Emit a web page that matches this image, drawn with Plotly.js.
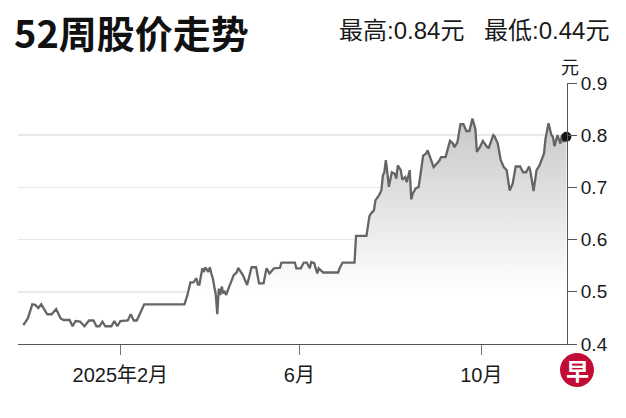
<!DOCTYPE html>
<html>
<head>
<meta charset="utf-8">
<script src="https://cdn.plot.ly/plotly-3.0.1.min.js"></script>
<style>html,body{margin:0;padding:0;background:#fff;}#chart{width:626px;height:418px;}</style>
</head>
<body>
<div id="chart"></div>
<script>
// 52-week share price (SGD)
const dates = [
  '2024-11-28','2024-11-30','2024-12-01','2024-12-04','2024-12-06','2024-12-08','2024-12-10','2024-12-14',
  '2024-12-17','2024-12-20','2024-12-23','2024-12-25','2024-12-29','2024-12-31','2025-01-02','2025-01-05',
  '2025-01-08','2025-01-11','2025-01-14','2025-01-16','2025-01-18','2025-01-20','2025-01-22','2025-01-26',
  '2025-01-28','2025-01-30','2025-02-01','2025-02-06','2025-02-08','2025-02-10','2025-02-12','2025-02-14',
  '2025-02-17','2025-03-16','2025-03-18','2025-03-20','2025-03-22','2025-03-24','2025-03-25','2025-03-26',
  '2025-03-28','2025-03-29','2025-03-30','2025-04-01','2025-04-02','2025-04-03','2025-04-04','2025-04-06',
  '2025-04-07','2025-04-08','2025-04-09','2025-04-10','2025-04-11','2025-04-12','2025-04-13','2025-04-15',
  '2025-04-18','2025-04-20','2025-04-21','2025-04-23','2025-04-24','2025-04-27','2025-04-29','2025-04-30',
  '2025-05-03','2025-05-05','2025-05-08','2025-05-10','2025-05-12','2025-05-15','2025-05-19','2025-05-20',
  '2025-05-29','2025-05-30','2025-06-02','2025-06-04','2025-06-06','2025-06-08','2025-06-09','2025-06-11',
  '2025-06-13','2025-06-14','2025-06-17','2025-06-27','2025-06-28','2025-06-30','2025-07-08','2025-07-09',
  '2025-07-16','2025-07-18','2025-07-19','2025-07-21','2025-07-22','2025-07-24','2025-07-26','2025-07-27',
  '2025-07-28','2025-07-29','2025-07-30','2025-07-31','2025-08-02','2025-08-04','2025-08-05','2025-08-06',
  '2025-08-08','2025-08-09','2025-08-11','2025-08-12','2025-08-14','2025-08-15','2025-08-16','2025-08-18',
  '2025-08-20','2025-08-22','2025-08-23','2025-08-25','2025-08-26','2025-08-28','2025-08-30','2025-09-01',
  '2025-09-03','2025-09-04','2025-09-07','2025-09-10','2025-09-12','2025-09-13','2025-09-15','2025-09-17',
  '2025-09-19','2025-09-21','2025-09-23','2025-09-25','2025-09-27','2025-09-28','2025-09-30','2025-10-02',
  '2025-10-05','2025-10-06','2025-10-09','2025-10-10','2025-10-12','2025-10-14','2025-10-16','2025-10-18',
  '2025-10-20','2025-10-22','2025-10-24','2025-10-27','2025-10-29','2025-10-31','2025-11-02','2025-11-03',
  '2025-11-05','2025-11-07','2025-11-09','2025-11-12','2025-11-13','2025-11-15','2025-11-17','2025-11-18',
  '2025-11-19','2025-11-21','2025-11-23','2025-11-24','2025-11-25','2025-11-27'
];
const prices = [
  0.436,0.446,0.449,0.476,0.475,0.469,0.476,0.457,
  0.457,0.467,0.449,0.446,0.446,0.434,0.444,0.443,
  0.434,0.445,0.445,0.434,0.434,0.443,0.434,0.434,
  0.444,0.434,0.444,0.445,0.457,0.445,0.445,0.457,
  0.476,0.476,0.494,0.518,0.518,0.526,0.514,0.514,
  0.545,0.538,0.547,0.538,0.547,0.535,0.526,0.494,
  0.457,0.506,0.494,0.510,0.497,0.500,0.494,0.510,
  0.532,0.537,0.546,0.537,0.533,0.513,0.538,0.547,
  0.547,0.516,0.516,0.545,0.535,0.545,0.546,0.556,
  0.556,0.545,0.545,0.556,0.556,0.545,0.557,0.555,
  0.535,0.545,0.537,0.537,0.545,0.556,0.556,0.607,
  0.607,0.645,0.650,0.656,0.675,0.683,0.694,0.723,
  0.729,0.752,0.729,0.701,0.729,0.726,0.717,0.742,
  0.733,0.715,0.720,0.710,0.733,0.677,0.688,0.698,
  0.701,0.745,0.761,0.765,0.771,0.755,0.739,0.745,
  0.752,0.758,0.758,0.789,0.784,0.777,0.787,0.821,
  0.821,0.808,0.808,0.832,0.812,0.768,0.777,0.789,
  0.777,0.776,0.800,0.797,0.784,0.752,0.739,0.733,
  0.694,0.707,0.740,0.740,0.729,0.729,0.740,0.729,
  0.693,0.733,0.742,0.765,0.793,0.823,0.800,0.797,
  0.779,0.800,0.784,0.800,0.787,0.797
];
const tickDates = ['2025-02-01','2025-06-01','2025-10-01'];
const tickLabels = ['2025年2月','6月','10月'];
const yTicks = [0.4,0.5,0.6,0.7,0.8,0.9];
const titleText = '52周股价走势';
const highText = '最高:0.84元';
const lowText = '最低:0.44元';
const unitText = '元';

const FONT = "'Liberation Sans', 'Noto Sans CJK SC', sans-serif";
const CJK = "'Noto Sans CJK SC', sans-serif";

const traces = [
  {
    x: dates, y: prices, type: 'scatter', mode: 'lines',
    line: {color: '#656565', width: 2.3},
    fill: 'tozeroy',
    fillgradient: {type: 'vertical', start: 0.5, stop: 0.83,
      colorscale: [[0, 'rgb(255,255,255)'], [1, 'rgb(200,200,200)']]},
    hoverinfo: 'skip'
  },
  {
    x: [dates[dates.length - 1]], y: [prices[prices.length - 1]],
    type: 'scatter', mode: 'markers', cliponaxis: false,
    marker: {color: '#151515', size: 10}, hoverinfo: 'skip'
  }
];

const layout = {
  width: 626, height: 418,
  margin: {l: 18, r: 59, t: 83, b: 74, pad: 0},
  paper_bgcolor: '#fff', plot_bgcolor: '#fff',
  showlegend: false,
  font: {family: FONT, color: '#1a1a1a', size: 18},
  annotations: [
    {text: titleText, xref: 'paper', yref: 'paper', x: (12 - 18) / 549, y: (344 - 31) / 261,
     xanchor: 'left', yanchor: 'middle', showarrow: false,
     font: {family: CJK, size: 38, weight: 'bold', color: '#111'}},
    {text: highText, xref: 'paper', yref: 'paper', x: (466 - 18) / 549, y: (344 - 30) / 261,
     xanchor: 'right', yanchor: 'middle', showarrow: false,
     font: {family: FONT, size: 24, color: '#1a1a1a'}},
    {text: lowText, xref: 'paper', yref: 'paper', x: (611 - 18) / 549, y: (344 - 30) / 261,
     xanchor: 'right', yanchor: 'middle', showarrow: false,
     font: {family: FONT, size: 24, color: '#1a1a1a'}},
    {text: unitText, xref: 'paper', yref: 'paper', x: (570 - 18) / 549, y: (344 - 66) / 261,
     xanchor: 'center', yanchor: 'middle', showarrow: false,
     font: {family: CJK, size: 18, color: '#1a1a1a'}},
    {text: '早', xref: 'paper', yref: 'paper', x: (577 - 18) / 549, y: (344 - 370) / 261,
     xanchor: 'center', yanchor: 'middle', showarrow: false,
     font: {family: CJK, size: 23, weight: 'bold', color: '#ffffff'}}
  ],
  xaxis: {
    type: 'date', range: ['2024-11-24 10:00', '2025-11-27 10:00'],
    tickvals: tickDates, ticktext: tickLabels,
    ticks: 'outside', ticklen: 10, tickcolor: '#777', tickwidth: 1,
    ticklabelstandoff: 3,
    showline: true, linecolor: '#555', linewidth: 1,
    showgrid: false, zeroline: false, fixedrange: true,
    tickfont: {family: FONT, size: 20, color: '#1a1a1a'}
  },
  yaxis: {
    side: 'right', range: [0.4, 0.9], tickvals: yTicks, tickformat: '.1f',
    ticks: 'outside', ticklen: 9, tickcolor: '#555', tickwidth: 1,
    showline: true, linecolor: '#555', linewidth: 1,
    showgrid: true, gridcolor: '#e9e9e9', gridwidth: 1.5,
    zeroline: false, fixedrange: true,
    tickfont: {family: FONT, size: 19, color: '#1a1a1a'}
  },
  shapes: [
    {type: 'circle', xref: 'paper', yref: 'paper',
     x0: (560 - 18) / 549, x1: (594 - 18) / 549, y0: (344 - 387) / 261, y1: (344 - 353) / 261,
     fillcolor: '#c10c35', line: {width: 0}, layer: 'above'}
  ]
};

Plotly.newPlot('chart', traces, layout, {displayModeBar: false, staticPlot: true});
</script>
</body>
</html>
